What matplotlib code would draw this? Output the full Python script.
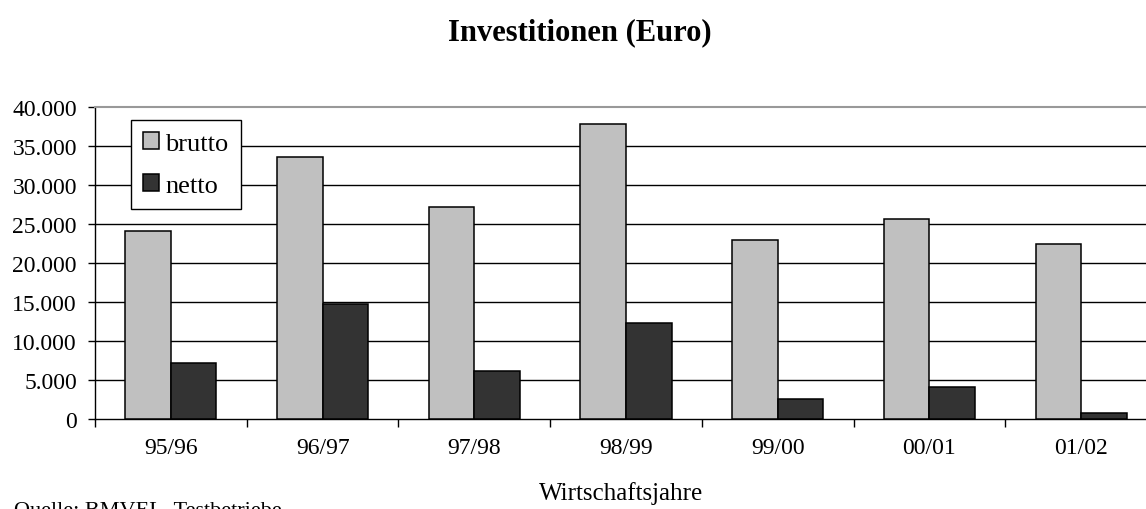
import matplotlib
matplotlib.use("Agg")
import matplotlib.pyplot as plt
from matplotlib.ticker import FuncFormatter, MultipleLocator, FixedLocator

plt.rcParams['font.family'] = ['Liberation Serif', 'DejaVu Serif']

# data (Euro)
jahre = ['95/96', '96/97', '97/98', '98/99', '99/00', '00/01', '01/02']
brutto = [24100, 33600, 27200, 37800, 22900, 25700, 22400]
netto = [7200, 14700, 6200, 12300, 2600, 4100, 800]

fig = plt.figure(figsize=(11.46, 5.10), dpi=100)
ax = fig.add_axes([95/1146, 90/510, 1062/1146, 312/510])

x = range(len(jahre))
w = 0.3
ax.bar([i - w/2 for i in x], brutto, w, color='#c0c0c0', edgecolor='black',
       linewidth=1.1, label='brutto', zorder=3)
ax.bar([i + w/2 for i in x], netto, w, color='#333333', edgecolor='black',
       linewidth=1.1, label='netto', zorder=3)

ax.set_xlim(-0.5, len(jahre) - 0.5)
ax.set_ylim(0, 40000)

# grid
ax.yaxis.set_major_locator(MultipleLocator(5000))
ax.yaxis.set_major_formatter(FuncFormatter(lambda v, p: f"{int(v):,}".replace(',', '.')))
for v in range(5000, 40000, 5000):
    ax.axhline(v, color='black', linewidth=1.0, zorder=1)

ax.spines['right'].set_visible(False)
ax.spines['top'].set_color('#999999')
ax.spines['top'].set_linewidth(1.5)
ax.spines['left'].set_linewidth(1.0)
ax.spines['bottom'].set_linewidth(1.0)

ax.set_xticks(list(x))
ax.set_xticklabels(jahre)
ax.xaxis.set_minor_locator(FixedLocator([i - 0.5 for i in range(len(jahre) + 1)]))
ax.tick_params(axis='x', which='major', length=0, pad=13, labelsize=17)
ax.tick_params(axis='x', which='minor', length=6, width=1, direction='out')
ax.tick_params(axis='y', length=5, width=1, direction='out', labelsize=17, pad=8)

leg = ax.legend(loc='upper left', bbox_to_anchor=(0.034, 0.958), fontsize=19,
                frameon=True, fancybox=False, framealpha=1, edgecolor='black',
                handlelength=0.6, handleheight=0.6, handletextpad=0.25,
                labelspacing=0.75, borderpad=0.45, borderaxespad=0)
leg.get_frame().set_linewidth(1.0)
leg.set_zorder(5)

fig.text(580/1146, 1 - 33/510, 'Investitionen (Euro)', ha='center', va='center',
         fontsize=22, fontweight='bold')
fig.text(621/1146, 1 - 494/510, 'Wirtschaftsjahre', ha='center', va='center',
         fontsize=18)
fig.text(14/1146, 1 - 511/510, 'Quelle: BMVEL, Testbetriebe', ha='left',
         va='center', fontsize=16)

fig.savefig('out.png', dpi=100)
